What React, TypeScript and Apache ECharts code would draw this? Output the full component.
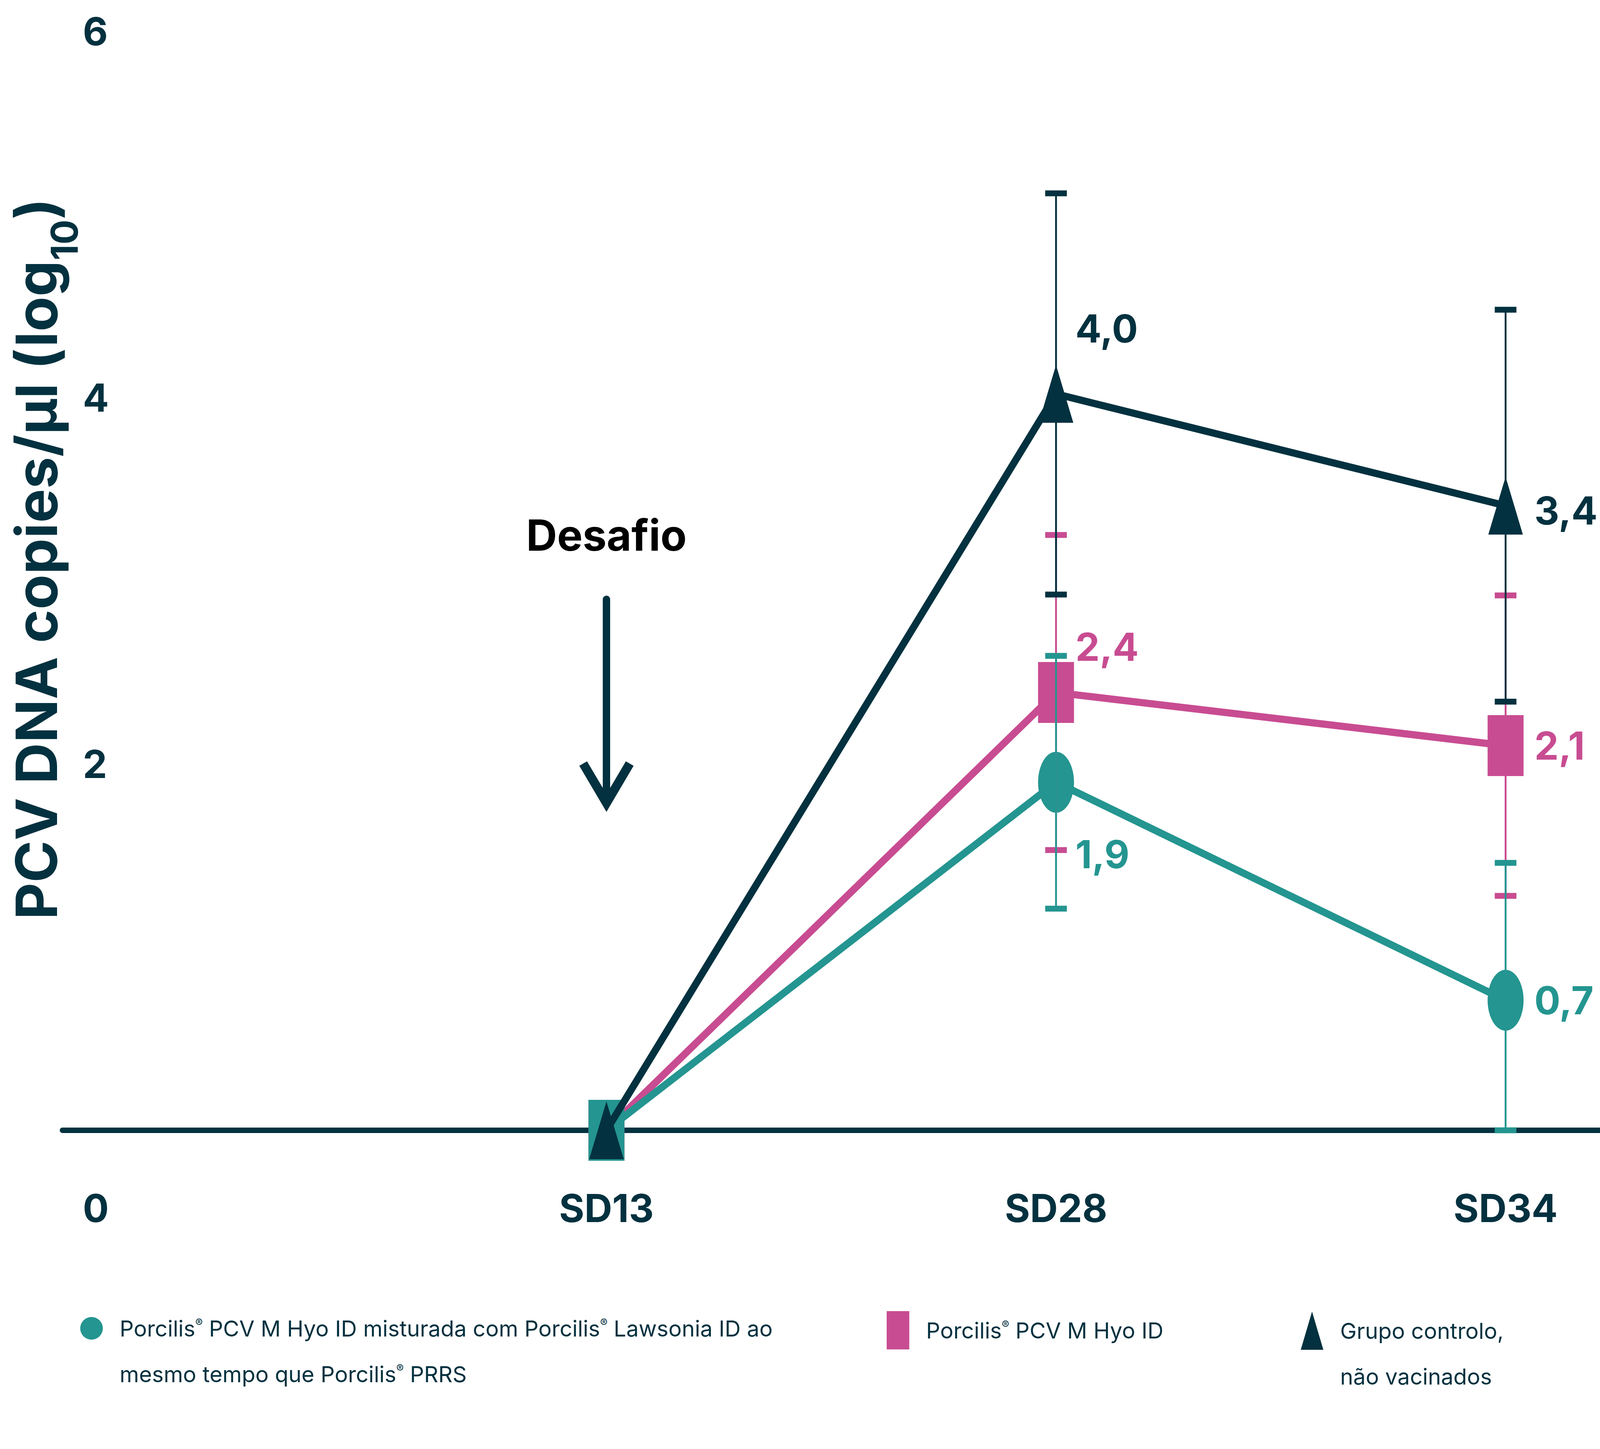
import { useEffect, useRef } from 'react';
import * as echarts from 'echarts';

// ---------- data ----------
const categories = ['SD13', 'SD28', 'SD34'];
const categoryPositions = [1, 2, 3];
const yTickValues = [0, 2, 4, 6];

const seriesNames = [
  'Porcilis® PCV M Hyo ID misturada com Porcilis® Lawsonia ID ao mesmo tempo que Porcilis® PRRS',
  'Porcilis® PCV M Hyo ID',
  'Grupo controlo, não vacinados',
];
const legendLines = [
  ['Porcilis® PCV M Hyo ID misturada com Porcilis® Lawsonia ID ao', 'mesmo tempo que Porcilis® PRRS'],
  ['Porcilis® PCV M Hyo ID'],
  ['Grupo controlo,', 'não vacinados'],
];

// mean log10 copies/µl per time point
const comboMeans = [0, 1.9, 0.71];
const pcvMeans = [0, 2.39, 2.1];
const controlMeans = [0, 4.02, 3.41];
// error (±) per time point
const comboErrors = [null, 0.69, 0.75];
const pcvErrors = [null, 0.86, 0.82];
const controlErrors = [null, 1.095, 1.07];

const yAxisTitle = 'PCV DNA copies/µl (log{sub|10})';
const challengeLabel = 'Desafio';

// ---------- style (reference frame 6940 x 3710) ----------
const DARK = '#03313f';
const TEAL = '#249590';
const PINK = '#c84c91';
const FONT = 'Inter';
const W = 6940;
const H = 3710;

const X_MIN = -0.21;
const X_MAX = 3.21;

// [distance, dy] for value labels per point
const comboLabelLayout = [null, [6, 184], [47, 0]];
const pcvLabelLayout = [null, [6, -117], [47, 0]];
const controlLabelLayout = [null, [9, -168], [50, 12]];

const fmt = (v: number) => v.toFixed(1).replace('.', ',');
const richify = (s: string) => s.replace(/®/g, '{r|®}');

const legendIcons = ['circle', 'rect', 'triangle'];
const legendLeft = [348, 3846, 5642];
const legendIconCenterY = [3401, 3406, 3407];

export default function App() {
  const ref = useRef<HTMLDivElement>(null);
  const vw = typeof window !== 'undefined' ? window.innerWidth || W : W;
  const vh = typeof window !== 'undefined' ? window.innerHeight || H : H;

  useEffect(() => {
    document.body.style.margin = '0';
    document.body.style.overflow = 'hidden';
    const sx = vw / W;
    const sy = vh / H;
    const ft = Math.min(sy, 1.08 * sx); // horizontal text scale
    const ftL = Math.min(sy, 0.99 * sx); // legend text scale
    const ftV = Math.min(sy, 1.6 * sx); // rotated title scale
    const sd = Math.sqrt(sx * sy);
    const X = (v: number) => v * sx;
    const Y = (v: number) => v * sy;
    const F = (v: number) => v * ft;

    const chart = echarts.init(ref.current!, null, { renderer: 'svg' });

    const lineSeries = (
      name: string,
      means: number[],
      color: string,
      symbol: string,
      size: number[],
      layout: any[],
      z: number,
      firstSymbol?: string
    ) => ({
      type: 'line',
      name,
      z,
      clip: false,
      color,
      symbol,
      symbolSize: [X(size[0]), Y(size[1])],
      showSymbol: true,
      silent: true,
      lineStyle: { color, width: 24 * sd },
      itemStyle: { color },
      emphasis: { disabled: true },
      label: {
        show: false,
        formatter: (p: any) => fmt(p.value[1]),
        color,
        fontSize: F(155),
        lineHeight: F(155),
        fontWeight: 'bold',
        fontFamily: FONT,
      },
      data: means.map((m, i) => {
        const item: any = { value: [categoryPositions[i], m] };
        if (i === 0 && firstSymbol) item.symbol = firstSymbol;
        const l = layout[i];
        item.label = l
          ? { show: true, position: 'right', distance: X(l[0]), offset: [0, Y(l[1])] }
          : { show: false };
        return item;
      }),
    });

    const errorSeries = (name: string, means: number[], errs: (number | null)[], color: string, z: number) => {
      const data: number[][] = [];
      means.forEach((m, i) => {
        const e = errs[i];
        if (e != null) data.push([categoryPositions[i], Math.max(0, m - e), m + e]);
      });
      return {
        type: 'custom',
        name: name + ' (erro)',
        z,
        silent: true,
        clip: false,
        encode: { x: 0, y: [1, 2] },
        data,
        renderItem: (_params: any, api: any) => {
          const x = api.value(0);
          const lo = api.coord([x, api.value(1)]);
          const hi = api.coord([x, api.value(2)]);
          const half = X(47);
          return {
            type: 'group',
            children: [
              { type: 'line', shape: { x1: lo[0], y1: lo[1], x2: hi[0], y2: hi[1] }, style: { stroke: color, lineWidth: Math.max(2, X(8)) } },
              { type: 'line', shape: { x1: hi[0] - half, y1: hi[1], x2: hi[0] + half, y2: hi[1] }, style: { stroke: color, lineWidth: Y(15) } },
              { type: 'line', shape: { x1: lo[0] - half, y1: lo[1], x2: lo[0] + half, y2: lo[1] }, style: { stroke: color, lineWidth: Y(15) } },
            ],
          };
        },
      };
    };

    const legendFont = 97 * ftL;
    const legends = [0, 1, 2].map((i) => {
      const lines = legendLines[i].length;
      const lh = Y(117);
      const padTop = lines > 1 ? lh : 0;
      const textH = lines * lh + padTop;
      const iconW = X(98);
      return {
        show: true,
        selectedMode: false,
        orient: 'horizontal',
        left: X(legendLeft[i]),
        top: Y(legendIconCenterY[i]) - textH / 2,
        padding: 0,
        itemWidth: iconW,
        itemHeight: Y(98),
        symbolKeepAspect: false,
        data: [{ name: seriesNames[i], icon: legendIcons[i] }],
        formatter: () => richify(legendLines[i].join('\n')),
        textStyle: {
          color: DARK,
          fontSize: legendFont,
          lineHeight: lh,
          fontFamily: FONT,
          padding: [padTop, 0, 0, Math.max(0, X(171) - iconW - 5)],
          rich: {
            r: {
              fontSize: legendFont * 0.5,
              verticalAlign: 'top',
              padding: [lh / 2 - 0.36 * legendFont + 0.12 * legendFont - 0.25 * legendFont, 0, 0, 0],
              color: DARK,
              fontFamily: FONT,
            },
          },
        },
      };
    });

    chart.setOption({
      animation: false,
      backgroundColor: '#ffffff',
      grid: { left: X(271), right: 0, top: Y(80), bottom: Y(816), containLabel: false, outerBoundsMode: 'none' },
      legend: legends,
      tooltip: { show: false },
      xAxis: {
        type: 'value',
        min: X_MIN,
        max: X_MAX,
        splitLine: { show: false },
        axisTick: { show: false },
        axisLine: { show: true, onZero: false, lineStyle: { color: DARK, width: Y(14) } },
        axisLabel: {
          customValues: categoryPositions,
          formatter: (v: number) => categories[categoryPositions.indexOf(Math.round(v))] ?? '',
          color: DARK,
          fontSize: F(155),
          lineHeight: F(155),
          fontWeight: 'bold',
          fontFamily: FONT,
          margin: Y(199) - F(155) / 2,
        },
      },
      yAxis: {
        type: 'value',
        min: 0,
        max: 6,
        interval: 2,
        splitLine: { show: false },
        axisTick: { show: false },
        axisLine: { show: false },
        axisLabel: {
          inside: true,
          margin: X(88),
          formatter: (v: number) => (v === 0 ? '' : String(v)),
          color: DARK,
          fontSize: F(155),
          fontWeight: 'bold',
          fontFamily: FONT,
        },
      },
      series: [
        lineSeries(seriesNames[1], pcvMeans, PINK, 'rect', [156, 156], pcvLabelLayout, 3),
        lineSeries(seriesNames[0], comboMeans, TEAL, 'circle', [156, 156], comboLabelLayout, 4, 'rect'),
        lineSeries(seriesNames[2], controlMeans, DARK, 'triangle', [150, 148], controlLabelLayout, 5),
        errorSeries(seriesNames[1], pcvMeans, pcvErrors, PINK, 6),
        errorSeries(seriesNames[0], comboMeans, comboErrors, TEAL, 7),
        errorSeries(seriesNames[2], controlMeans, controlErrors, DARK, 8),
      ],
    });

    const finder = { xAxisIndex: 0, yAxisIndex: 0 };
    const origin = chart.convertToPixel(finder, [X_MIN, yTickValues[0]]) as number[];
    const sd13 = chart.convertToPixel(finder, [categoryPositions[0], 0]) as number[];
    const ax = sd13[0];
    const titleFont = 155 * ftV;
    const arrowW = 32 * sx;

    chart.setOption({
      graphic: [
        {
          type: 'text',
          x: Math.max(X(78), 0.63 * titleFont),
          y: Y(1431),
          rotation: Math.PI / 2,
          style: {
            text: yAxisTitle,
            fill: DARK,
            fontSize: titleFont,
            lineHeight: 254 * ftV,
            fontWeight: 'bold',
            fontFamily: FONT,
            align: 'center',
            verticalAlign: 'middle',
            rich: {
              sub: { fontSize: 100 * ftV, lineHeight: 100 * ftV, fontWeight: 'bold', fontFamily: FONT, fill: DARK, verticalAlign: 'bottom' },
            },
          },
        },
        {
          type: 'text',
          x: origin[0] + X(88),
          y: origin[1] + Y(199),
          style: {
            text: String(yTickValues[0]),
            fill: DARK,
            fontSize: F(155),
            fontWeight: 'bold',
            fontFamily: FONT,
            align: 'left',
            verticalAlign: 'middle',
          },
        },
        {
          type: 'text',
          x: ax,
          y: Y(1370),
          style: {
            text: challengeLabel,
            fill: '#000000',
            fontSize: F(172),
            fontWeight: 'bold',
            fontFamily: FONT,
            align: 'center',
            verticalAlign: 'middle',
          },
        },
        {
          type: 'line',
          shape: { x1: ax, y1: Y(1525) + arrowW / 2, x2: ax, y2: Y(2050) },
          style: { stroke: DARK, lineWidth: arrowW, lineCap: 'round' },
        },
        {
          type: 'polyline',
          shape: { points: [[ax - X(101), Y(1955)], [ax, Y(2056)], [ax + X(101), Y(1955)]] },
          style: { stroke: DARK, lineWidth: 30 * sd, lineJoin: 'miter', lineCap: 'butt', fill: null },
        },
      ],
    });

    return () => chart.dispose();
  }, []);

  return (
    <div
      ref={ref}
      style={{ position: 'fixed', left: 0, top: 0, width: vw, height: vh, background: '#ffffff' }}
    />
  );
}
